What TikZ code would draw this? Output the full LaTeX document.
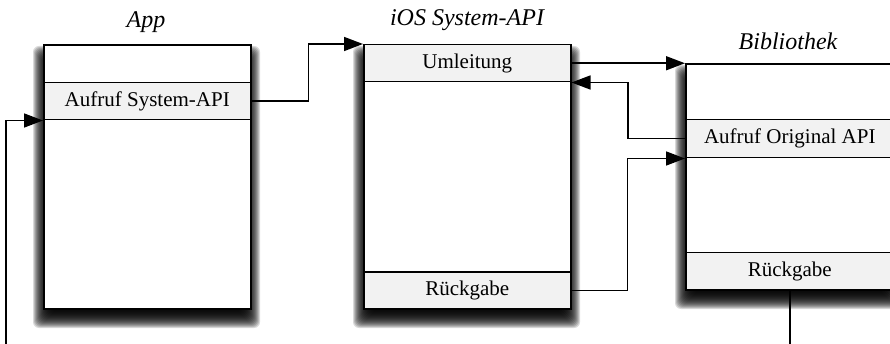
\documentclass[tikz,border=0pt]{standalone}
\usepackage{fontspec}
\setmainfont{Liberation Serif}
\usetikzlibrary{arrows.meta}

\definecolor{bandgray}{HTML}{F2F2F2}

\tikzset{
  frame/.style={draw=black, line width=2pt, fill=white, inner sep=0pt,
    minimum width=207pt, anchor=north west},
  band/.style={draw=black, line width=1.5pt, fill=bandgray, inner sep=0pt,
    minimum width=207pt, minimum height=37pt, anchor=north west,
    font=\fontsize{21}{24}\selectfont},
  title/.style={font=\fontsize{24}{28}\selectfont\itshape},
  flow/.style={draw=black, line width=1.5pt,
    -{Triangle[length=19pt, width=14pt]}},
}

% soft drop shadow under a box given by its corners
\newcommand{\softshadow}[4]{%
  \foreach \r in {-10,-9,...,10}{%
    \fill[black, opacity=0.15, rounded corners=6pt]
      ({#1-\r}, {#2+12-\r}) rectangle ({#3+\r}, {#4+10+\r});
  }%
}

\begin{document}
\begin{tikzpicture}[x=1pt, y=-1pt]
  \useasboundingbox (0,0) rectangle (890,344);
  \clip (0,0) rectangle (890,344);
  \fill[white] (0,0) rectangle (890,344);

  % shadows
  \softshadow{43}{44}{250}{308}
  \softshadow{363}{44}{570}{308}
  \softshadow{685}{63}{893}{289}

  % App
  \node[frame, minimum height=264pt] (app) at (43,44) {};
  \node[band] (appcall) at (43,82) {Aufruf System-API};
  \node[title] (apptitle) at (146,22) {App};

  % iOS System-API
  \node[frame, minimum height=264pt] (ios) at (363,44) {};
  \node[band] (umleit) at (363,44) {Umleitung};
  \node[band] (iosret) at (363,271) {Rückgabe};
  \node[title] (iostitle) at (467,20) {iOS System-API};

  % Bibliothek
  \node[frame, minimum width=208pt, minimum height=226pt] (bib) at (685,63) {};
  \node[band, minimum width=208pt, minimum height=38pt] (bibcall) at (685,119) {Aufruf Original API};
  \node[band, minimum width=208pt] (bibret) at (685,252) {Rückgabe};
  \node[title] (bibtitle) at (788,41) {Bibliothek};

  % call flow
  \draw[flow] (appcall.east) -- ++(57,0) |- (ios.north west);
  \draw[flow] (umleit.east) -- (umleit.east -| bib.west);
  \draw[flow] (bibcall.west) -- ++(-57,0) |- (umleit.south east);
  \draw[flow] (iosret.east) -- ++(56,0) |- (bibcall.south west);

  % return path back into the app
  \coordinate (loop) at (6,370);
  \draw[flow] (bibret.south) |- (loop) |- (appcall.south west);
\end{tikzpicture}
\end{document}
